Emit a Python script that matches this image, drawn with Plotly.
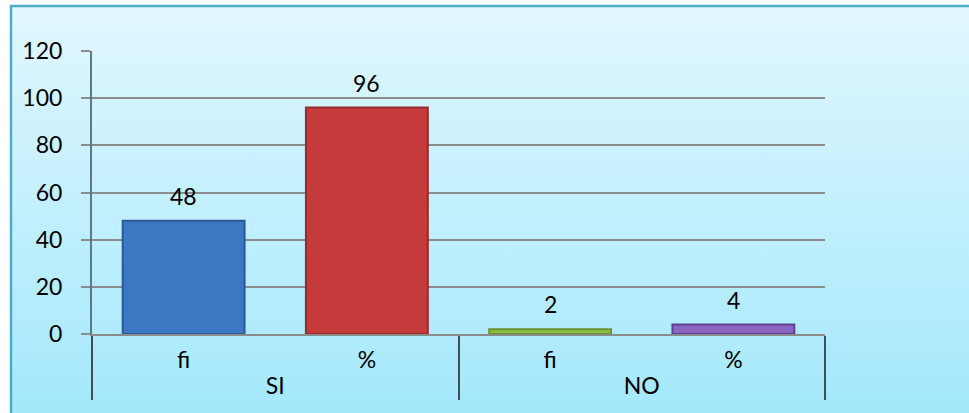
import base64
import plotly.graph_objects as go

# Survey answers: absolute frequency (fi) and percentage (%) for each answer
groups = ["SI", "SI", "NO", "NO"]
measures = ["fi", "%", "fi", "%"]
values = [48, 96, 2, 4]
bar_colors = ["#3B77C2", "#C53A3B", "#8DBE41", "#8A64BE"]
edge_colors = ["#2C5A96", "#962B2C", "#6C9430", "#5E4190"]
y_ticks = [0, 20, 40, 60, 80, 100, 120]

W, H = 969, 413
L, R, T, B = 92, 144, 51, 79
pw, ph = W - L - R, H - T - B


def px_x(p):
    return (p - L) / pw


def px_y(p):
    return (H - B - p) / ph


font = "Lato, 'Open Sans', sans-serif"
FS = 23

fig = go.Figure()
fig.add_trace(go.Bar(
    x=[groups, measures],
    y=values,
    marker=dict(color=bar_colors, line=dict(color=edge_colors, width=2)),
    width=0.665,
    hoverinfo="y",
))

# value labels above each bar
for i, v in enumerate(values):
    fig.add_annotation(
        x=i, y=v, text=str(v), showarrow=False,
        yanchor="bottom", yshift=9,
        font=dict(family=font, size=FS, color="#000000"),
    )

# soft light-blue chart area with vertical gradient
svg = (
    f'<svg xmlns="http://www.w3.org/2000/svg" width="{W}" height="{H}">'
    '<defs><linearGradient id="g" x1="0" y1="0" x2="0" y2="1">'
    '<stop offset="0" stop-color="#E1F7FE"/>'
    '<stop offset="1" stop-color="#A3E8FC"/>'
    '</linearGradient></defs>'
    f'<rect width="{W}" height="{H}" fill="url(#g)"/></svg>'
)
src = "data:image/svg+xml;base64," + base64.b64encode(svg.encode()).decode()
fig.add_layout_image(
    source=src, xref="paper", yref="paper",
    x=px_x(11), y=px_y(6), sizex=px_x(W + 5) - px_x(11),
    sizey=px_y(6) - px_y(H + 5), xanchor="left", yanchor="top",
    sizing="stretch", layer="below",
)
fig.add_shape(
    type="rect", xref="paper", yref="paper",
    x0=px_x(11), x1=px_x(W + 5), y0=px_y(H + 5), y1=px_y(6),
    line=dict(color="#4BADC8", width=2.5), layer="above",
)

fig.update_layout(
    width=W, height=H,
    margin=dict(l=L, r=R, t=T, b=B),
    paper_bgcolor="#FFFFFF",
    plot_bgcolor="#FFFFFF",
    showlegend=False,
    bargap=0.33,
    font=dict(family=font, size=FS, color="#000000"),
)
fig.update_xaxes(
    type="multicategory",
    showline=True, linecolor="#8C8C8C", linewidth=2,
    showdividers=True, dividercolor="#3F4F55", dividerwidth=1.5,
    ticks="", showgrid=False,
    ticklabelstandoff=4,
    tickfont=dict(family=font, size=FS, color="#000000"),
)
fig.update_yaxes(
    range=[0, 120], tickvals=y_ticks,
    showgrid=True, gridcolor="#8C8C8C", gridwidth=2,
    zeroline=False,
    showline=True, linecolor="#5B7A86", linewidth=2,
    ticks="outside", ticklen=9, tickcolor="#8C8C8C", tickwidth=2,
    ticklabelstandoff=14,
    tickfont=dict(family=font, size=FS, color="#000000"),
)

fig.write_html("out.html")
